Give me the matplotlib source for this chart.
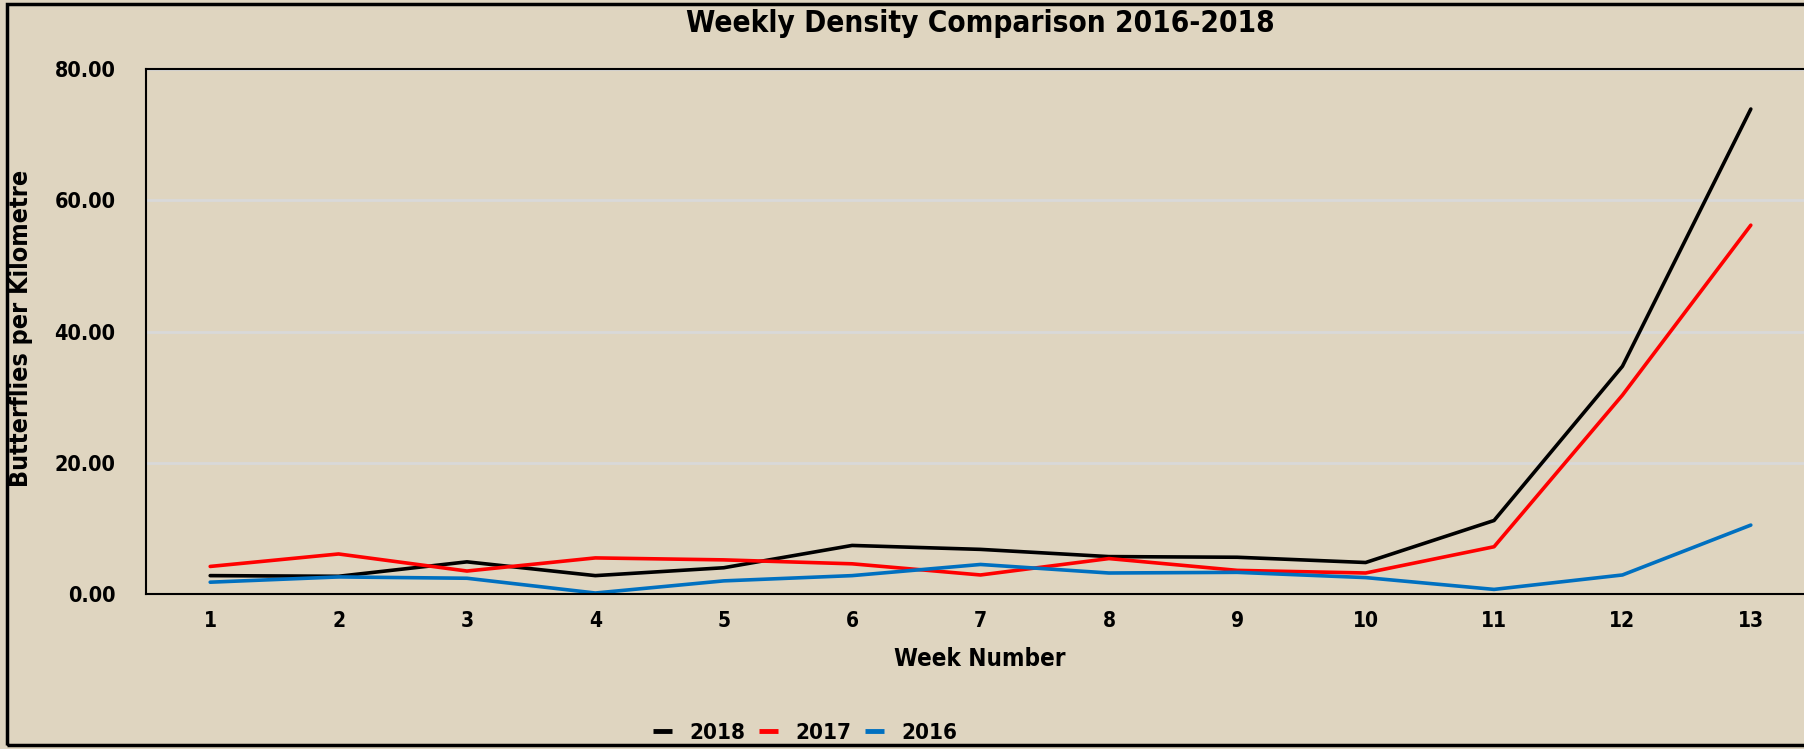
import matplotlib.pyplot as plt
from matplotlib.patches import Rectangle

weeks = list(range(1, 14))
week_labels = [str(w) for w in weeks]
d2018 = [2.8, 2.7, 4.9, 2.8, 4.0, 7.4, 6.8, 5.7, 5.6, 4.8, 11.2, 34.7, 73.9]
d2017 = [4.2, 6.1, 3.5, 5.5, 5.2, 4.6, 2.9, 5.4, 3.6, 3.2, 7.2, 30.3, 56.2]
d2016 = [1.8, 2.6, 2.4, 0.15, 2.0, 2.8, 4.5, 3.2, 3.3, 2.5, 0.7, 2.9, 10.5]
y_ticks = [0, 20, 40, 60, 80]

bg = '#dfd5c0'
font = dict(family='DejaVu Sans', stretch='condensed', weight='bold')

fig = plt.figure(figsize=(18.04, 7.49), dpi=100, facecolor=bg)
# outer frame (right side runs off the canvas like the source)
fig.patches.append(Rectangle((7 / 1804, 4 / 749), 1.2, 741 / 749, transform=fig.transFigure,
                             fill=False, edgecolor='black', linewidth=2.5))

ax = fig.add_axes([146 / 1804, 1 - 594 / 749, 1669 / 1804, 525 / 749], facecolor=bg)

ax.plot(weeks, d2018, color='#000000', linewidth=2.6, label='2018', solid_capstyle='round')
ax.plot(weeks, d2017, color='#ff0000', linewidth=2.6, label='2017', solid_capstyle='round')
ax.plot(weeks, d2016, color='#0070c0', linewidth=2.6, label='2016', solid_capstyle='round')

ax.set_xlim(0.5, 13.5)
ax.set_ylim(0, 80)
ax.set_xticks(weeks)
ax.set_xticklabels(week_labels, fontsize=15, **font)
ax.set_yticks(y_ticks)
ax.set_yticklabels([f'{v:.2f}' for v in y_ticks], fontsize=15.5, **font)
ax.tick_params(axis='both', length=0)
ax.tick_params(axis='y', pad=22)
ax.tick_params(axis='x', pad=12)
ax.grid(axis='y', color='#d9d9d9', linewidth=2)
ax.set_axisbelow(True)
for s in ax.spines.values():
    s.set_color('black')
    s.set_linewidth(1.5)

fig.text(980 / 1804, 1 - 24 / 749, 'Weekly Density Comparison 2016-2018', ha='center', va='center',
         fontsize=21.3, **font)
fig.text(980 / 1804, 1 - 659 / 749, 'Week Number', ha='center', va='center', fontsize=17.4, **font)
fig.text(21 / 1804, 1 - 328 / 749, 'Butterflies per Kilometre', ha='center', va='center',
         rotation=90, fontsize=18, **font)

leg = fig.legend(loc='center', bbox_to_anchor=(805 / 1804, 1 - 733 / 749), ncol=3, frameon=False,
                 prop=dict(size=16, **font), handlelength=0.88, columnspacing=0.6, handletextpad=0.77)
for line in leg.get_lines():
    line.set_linewidth(3.5)
    line.set_solid_capstyle('butt')

fig.savefig('out.png', dpi=100, facecolor=bg)
